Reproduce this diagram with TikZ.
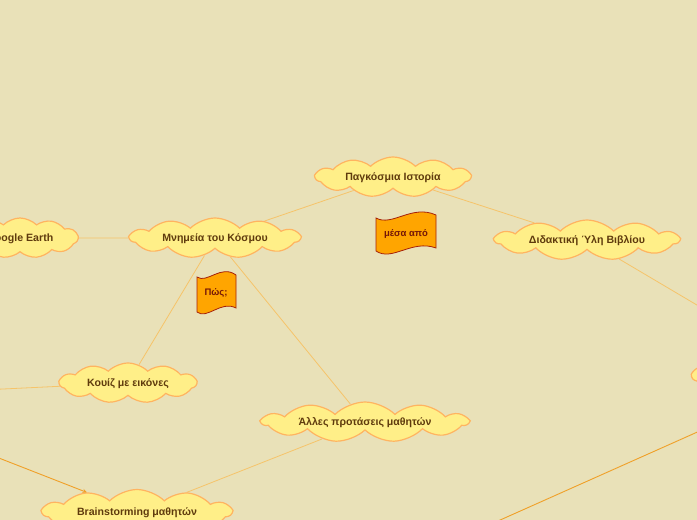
\documentclass[tikz,border=0pt]{standalone}
\usepackage{fontspec}
\setmainfont{Liberation Sans}
\usepackage{tikz}
\usetikzlibrary{arrows,shapes,positioning}
\definecolor{mmback}{RGB}{233,225,184}
\definecolor{mmfill}{RGB}{255,239,136}
\definecolor{mmborder}{RGB}{255,180,96}
\definecolor{mmtext}{RGB}{95,59,13}
\definecolor{mmline}{RGB}{246,196,106}
\definecolor{mmlinedark}{RGB}{240,160,40}
\definecolor{flagfill}{RGB}{255,165,0}
\definecolor{flagborder}{RGB}{165,32,10}
\tikzstyle{topic} = [cloud, cloud puffs=11, cloud puff arc=90, cloud ignores aspect, draw=mmborder, line width=1.2pt, fill=mmfill, text=mmtext, font=\fontsize{10.6}{12}\selectfont\bfseries, inner sep=0pt, text depth=0pt, minimum height=40pt]
\tikzstyle{link} = [mmline, line width=0.8pt]
\tikzstyle{linkdark} = [mmlinedark, line width=0.9pt]
\tikzstyle{arrow} = [linkdark,->,>=stealth]
\tikzstyle{flagbox} = [draw=flagborder, fill=flagfill, line width=0.8pt]
\tikzstyle{flagtext} = [text=flagborder!70!black, font=\fontsize{9.5}{11}\selectfont\bfseries]
\pgfdeclarelayer{background}
\pgfsetlayers{background,main}

\begin{document}
\begin{tikzpicture}[x=1pt, y=-1pt]
\useasboundingbox (0,0) rectangle (697,520);

% Topics
\node[topic, minimum width=155pt] (istoria) at (393,177) {Παγκόσμια Ιστορία};
\node[topic, minimum width=170pt] (mnimeia) at (215,238) {Μνημεία του Κόσμου};
\node[topic, minimum width=116pt] (google) at (20,238) {Google Earth};
\node[topic, minimum width=184pt] (didaktiki) at (587,240) {Διδακτική Ύλη Βιβλίου};
\node[topic, minimum width=137pt] (kouiz) at (128,383) {Κουίζ με εικόνες};
\node[topic, minimum width=206pt] (alles) at (365,422) {Άλλες προτάσεις μαθητών};
\node[topic, minimum width=189pt, minimum height=45pt] (brainstorm) at (137,512) {Brainstorming μαθητών};
\node[topic, minimum width=140pt] (rightnode) at (762,376) {};

% Free ends
\coordinate (kouizout) at (-80,393);
\coordinate (brainin) at (-60,435);
\coordinate (didaktikiout) at (800,366);
\coordinate (darkstart) at (740,413);
\coordinate (darkend) at (480,529);

% Connectors
\begin{pgfonlayer}{background}
\fill[mmback] (0,0) rectangle (697,520);
\draw[link] (istoria) -- (mnimeia);
\draw[link] (istoria) -- (didaktiki);
\draw[link] (mnimeia) -- (google);
\draw[link] (mnimeia) -- (kouiz);
\draw[link] (mnimeia) -- (alles);
\draw[link] (alles) -- (brainstorm);
\draw[link] (kouiz) -- (kouizout);
\draw[link] (didaktiki) -- (didaktikiout);
\draw[linkdark] (darkstart) -- (darkend);
\end{pgfonlayer}
\draw[arrow] (brainin) -- (brainstorm);

% Flags
\draw[flagbox, shift={(376,213)}] (0,5) .. controls (16,14) and (36,-9) .. (60,2) -- (60,35) .. controls (36,26) and (16,49) .. (0,38) -- cycle;
\node[flagtext] (mesa) at (406,234) {μέσα από};
\draw[flagbox, shift={(197,272)}] (0,5) .. controls (10,12) and (24,-8) .. (39,3) -- (39,36) .. controls (24,28) and (10,48) .. (0,40) -- cycle;
\node[flagtext] (pos) at (216,293) {Πώς;};
\end{tikzpicture}
\end{document}
